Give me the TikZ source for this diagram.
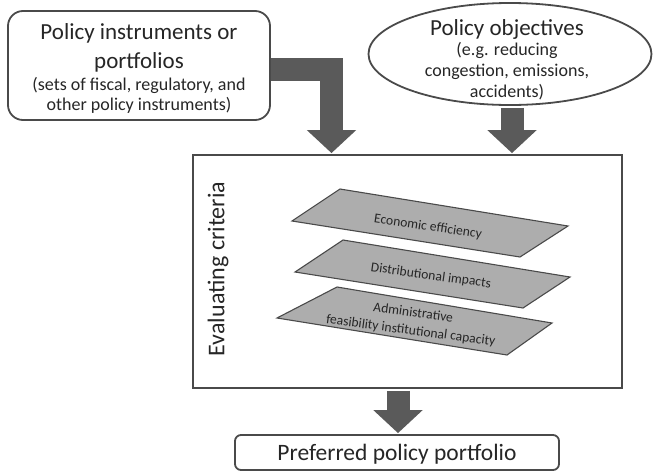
\documentclass[tikz,border=0pt]{standalone}
\usepackage{fontspec}
\setmainfont{Carlito}
\usetikzlibrary{shapes.geometric,arrows.meta,calc}
\definecolor{edge}{HTML}{4A4A4A}
\definecolor{blockarrow}{HTML}{5A5A5A}
\definecolor{plate}{HTML}{ADADAD}
\definecolor{ink}{HTML}{262626}
\pgfdeclarelayer{arrows}
\pgfsetlayers{arrows,main}
\tikzset{
  box/.style={draw=edge, line width=1.8pt, fill=white, inner sep=0pt},
  plane/.style={draw=edge, line width=1.1pt, fill=plate, line join=miter},
  flow/.style={draw=blockarrow, line width=23pt, line join=miter,
    -{Triangle[width=48pt,length=23pt]}},
  title/.style={text=ink, font=\fontsize{23}{29}\selectfont, align=center, inner sep=0pt},
  sub/.style={text=ink, font=\fontsize{18}{19.5}\selectfont, align=center, inner sep=0pt},
  planetext/.style={text=ink, font=\fontsize{13.6}{18}\selectfont, align=center, inner sep=0pt},
}
\begin{document}
\begin{tikzpicture}[x=1pt, y=-1pt]
\useasboundingbox (0,0) rectangle (657,472);

% input boxes
\node[box, rounded corners=15pt, minimum width=262pt, minimum height=109pt]
  (instr) at (139,65.5) {};
\node[box, ellipse, minimum width=283pt, minimum height=102pt]
  (obj) at (510,54) {};

% evaluation frame and output box
\node[box, minimum width=429pt, minimum height=233pt] (eval) at (407.5,271.5) {};
\node[box, rounded corners=6pt, minimum width=324pt, minimum height=35pt]
  (pref) at (397,452.5) {};

% block arrows, kept behind the boxes
\coordinate (instrOut) at (instr.east |- 0,69.5);
\coordinate (evalInA) at (331.5,0 |- eval.north);
\coordinate (objOut) at (512,0 |- obj.south);
\coordinate (evalInB) at (512,0 |- eval.north);
\coordinate (evalOut) at (398,0 |- eval.south);
\coordinate (prefIn) at (398,0 |- pref.north);
\begin{pgfonlayer}{arrows}
\draw[flow] ([xshift=-2pt]instrOut) -| ([yshift=1pt]evalInA);
\draw[flow] ([yshift=-2pt]objOut) -- ([yshift=1pt]evalInB);
\draw[flow] ([yshift=-2pt]evalOut) -- ([yshift=1pt]prefIn);
\end{pgfonlayer}

% texts of the input boxes
\node[title, anchor=base] (instrT) at (139,68) {Policy instruments or\\portfolios};
\node[sub, anchor=base] (instrS) at (139,110) {(sets of fiscal, regulatory, and\\other policy instruments)};
\node[title, anchor=base] (objT) at (507,35) {Policy objectives};
\node[sub, anchor=base, font=\fontsize{18}{21}\selectfont] (objS) at (507,97)
  {(e.g. reducing\\congestion, emissions,\\accidents)};

% criteria planes
\coordinate (p1a) at (340,189);
\coordinate (p1b) at (568,226);
\coordinate (p1c) at (520,257);
\coordinate (p1d) at (292,221);
\draw[plane] (p1a) -- (p1b) -- (p1c) -- (p1d) -- cycle;
\coordinate (p2a) at (343,240);
\coordinate (p2b) at (570,277);
\coordinate (p2c) at (523,308);
\coordinate (p2d) at (295,272);
\draw[plane] (p2a) -- (p2b) -- (p2c) -- (p2d) -- cycle;
\coordinate (p3a) at (337,287);
\coordinate (p3b) at (552,323);
\coordinate (p3c) at (507,355);
\coordinate (p3d) at (277,318);
\draw[plane] (p3a) -- (p3b) -- (p3c) -- (p3d) -- cycle;

\node[planetext, rotate=-8.5] (c1) at (428,227) {Economic efficiency};
\node[planetext, rotate=-8] (c2) at (431,276) {Distributional impacts};
\node[planetext, rotate=-7.5] (c3) at (412,322) {Administrative\\feasibility institutional capacity};

% frame label and result
\node[title, rotate=90, font=\fontsize{24}{26}\selectfont] (evalT) at (218,269) {Evaluating criteria};
\node[title, anchor=base, font=\fontsize{23.5}{26}\selectfont] (prefT) at (397,460) {Preferred policy portfolio};
\end{tikzpicture}
\end{document}
